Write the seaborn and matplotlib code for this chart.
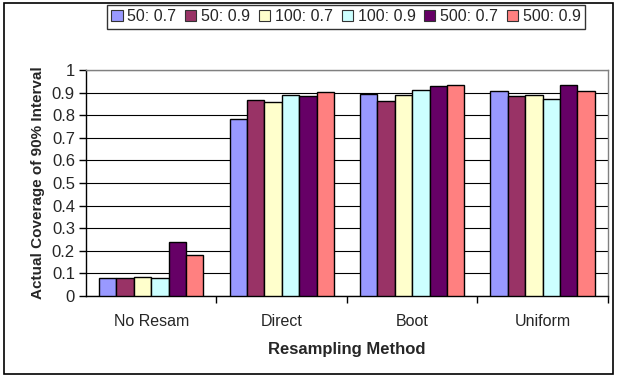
"""Coverage of 90% intervals by resampling method"""

import matplotlib
matplotlib.use("Agg")
import matplotlib.pyplot as plt
from matplotlib.patches import Rectangle
import pandas as pd
import seaborn as sns

methods = ["No Resam", "Direct", "Boot", "Uniform"]
series = ["50: 0.7", "50: 0.9", "100: 0.7", "100: 0.9", "500: 0.7", "500: 0.9"]
values = {
    "50: 0.7": [0.078, 0.782, 0.894, 0.906],
    "50: 0.9": [0.078, 0.866, 0.864, 0.884],
    "100: 0.7": [0.084, 0.858, 0.892, 0.888],
    "100: 0.9": [0.078, 0.889, 0.910, 0.874],
    "500: 0.7": [0.237, 0.884, 0.929, 0.934],
    "500: 0.9": [0.181, 0.904, 0.934, 0.906],
}
colors = ["#9999FF", "#993366", "#FFFFCC", "#CCFFFF", "#660066", "#FF8080"]

rows = []
for s in series:
    for m, v in zip(methods, values[s]):
        rows.append({"method": m, "series": s, "coverage": v})
df = pd.DataFrame(rows)

sns.set_style("white")
plt.rcParams["font.family"] = ["Liberation Sans", "DejaVu Sans"]

fig = plt.figure(figsize=(6.19, 3.77), dpi=100)
ax = fig.add_axes([0.139, 0.215, 0.843, 0.599])

sns.barplot(
    data=df, x="method", y="coverage", hue="series", order=methods,
    hue_order=series, palette=colors, width=0.8, edgecolor="black",
    linewidth=1, saturation=1, ax=ax, zorder=3,
)

ax.set_ylim(0, 1)
ax.set_xlim(-0.5, 3.5)
ax.set_yticks([i / 10 for i in range(11)])
ax.set_yticklabels(["0"] + [f"{i / 10:.1f}" for i in range(1, 10)] + ["1"])
ax.yaxis.grid(True, color="black", linewidth=0.8, zorder=0)
ax.set_axisbelow(True)

# category ticks sit between groups, labels in the middle
ax.set_xticks([0.5, 1.5, 2.5, 3.5], minor=False)
ax.set_xticklabels([])
ax.set_xticks([0, 1, 2, 3], minor=True)
ax.set_xticklabels(methods, minor=True)
ax.tick_params(axis="x", which="major", length=5, width=1, color="black", direction="out")
ax.tick_params(axis="x", which="minor", length=0, labelsize=11.5, pad=13)
ax.tick_params(axis="y", length=5, width=1, color="black", direction="out",
               labelsize=12, pad=3)
ax.xaxis.set_ticks_position("bottom")
ax.yaxis.set_ticks_position("left")

for side in ["top", "right"]:
    ax.spines[side].set_color("#808080")
    ax.spines[side].set_linewidth(1)
for side in ["left", "bottom"]:
    ax.spines[side].set_color("black")
    ax.spines[side].set_linewidth(1)

ax.set_xlabel("Resampling Method", fontsize=12, fontweight="bold", labelpad=9)
ax.set_ylabel("Actual Coverage of 90% Interval", fontsize=11, fontweight="bold",
              labelpad=5)

leg = ax.legend(
    loc="center", bbox_to_anchor=(0.173, 0.92, 0.772, 0.07),
    bbox_transform=fig.transFigure, ncol=6, frameon=True, fontsize=11.5,
    handlelength=0.7, handleheight=0.7, handletextpad=0.3, columnspacing=0.55,
    borderpad=0.3, fancybox=False, title=None,
)
leg.get_frame().set_edgecolor("black")
leg.get_frame().set_linewidth(1)
for h in leg.legend_handles:
    h.set_edgecolor("#333333")
    h.set_linewidth(0.8)

fig.patches.append(Rectangle((0.006, 0.008), 0.985, 0.984, transform=fig.transFigure,
                             fill=False, edgecolor="black", linewidth=1.2))

fig.savefig("out.png", dpi=100)
